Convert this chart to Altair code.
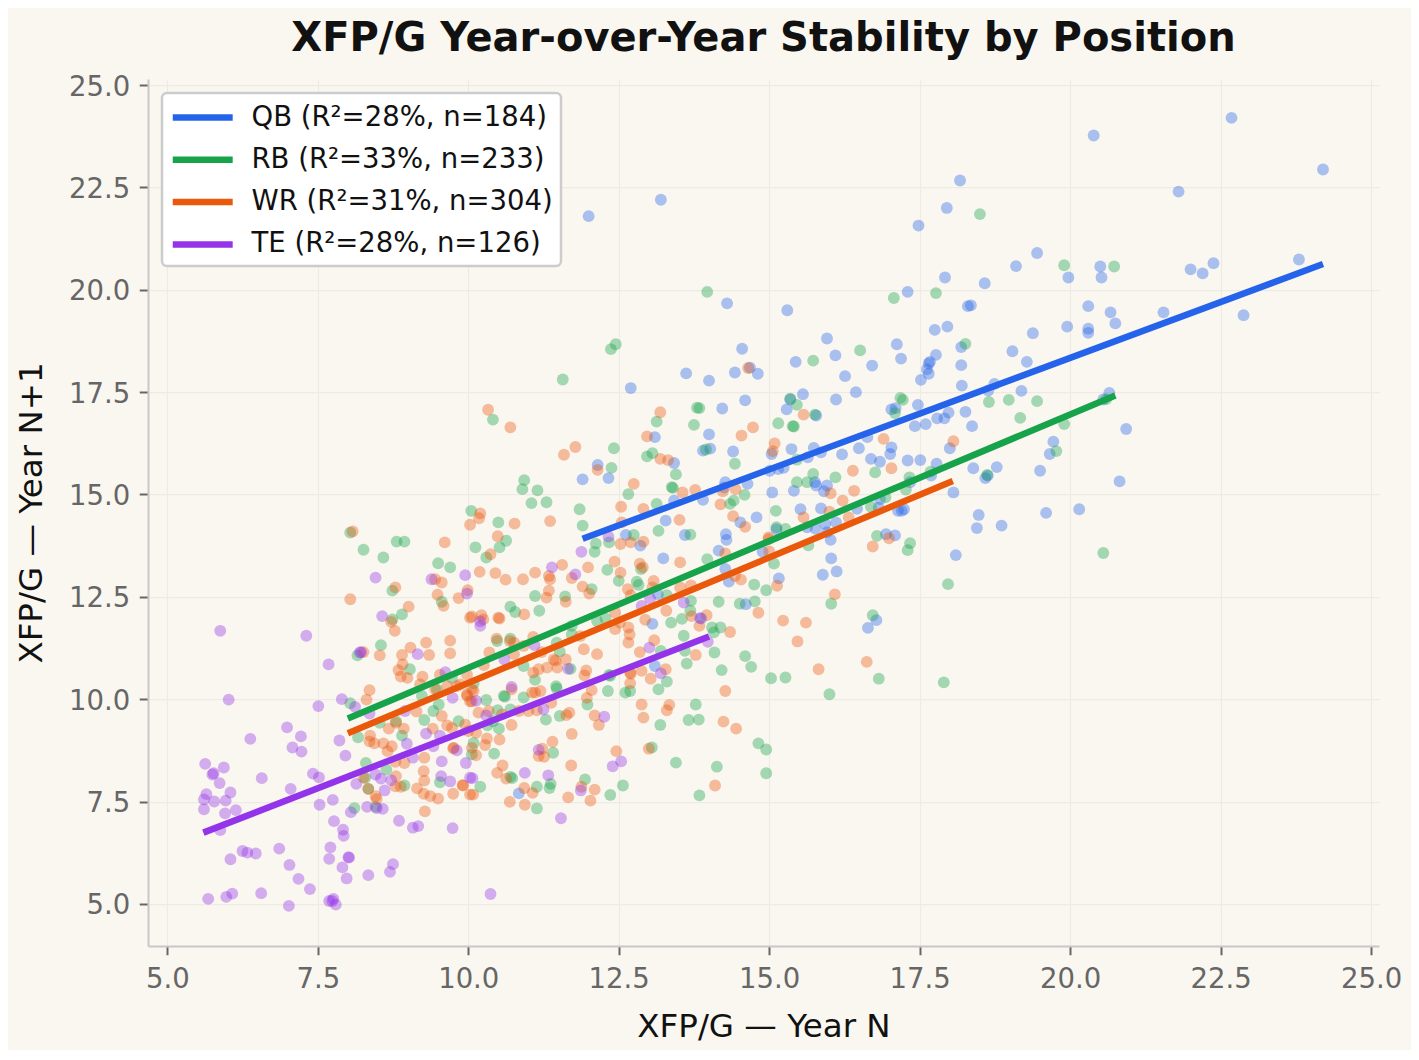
import altair as alt
import pandas as pd

positions = ["QB", "RB", "WR", "TE"]
labels = ["QB (R²=28%, n=184)", "RB (R²=33%, n=233)", "WR (R²=31%, n=304)", "TE (R²=28%, n=126)"]
colors = ["#2563eb", "#16a34a", "#ea580c", "#9333ea"]
ticks = [5, 7.5, 10, 12.5, 15, 17.5, 20, 22.5, 25]

qb = [(24.2,22.94),(22.68,24.2),(20.39,23.77),(21.8,22.4),(18.17,22.67),(13.2,22.2),(12.0,21.8),(17.95,22.0),(17.48,21.57),
(19.45,20.9),(23.8,20.74),(22.38,20.65),(22.0,20.5),(22.2,20.4),(20.5,20.57),(20.52,20.3),(19.1,20.58),(18.58,20.16),(19.97,20.3),
(17.92,20.3),(17.3,19.95),(14.3,19.67),(15.3,19.5),(18.3,19.6),(18.35,19.62),(20.3,19.6),(21.55,19.45),(22.88,19.38),(20.67,19.45),
(20.75,19.18),(19.95,19.1),(20.3,19.05),(20.3,18.95),(17.75,19.02),(17.96,19.1),(19.38,18.94),(15.96,18.81),(17.12,18.67),(18.19,18.6),
(14.55,18.56),(19.04,18.5),(16.1,18.4),(17.77,18.41),(17.19,18.32),(15.44,18.24),(19.28,18.24),(18.19,18.16),(17.67,18.24),(17.65,18.2),
(16.71,18.15),(13.62,17.96),(14.43,17.98),(14.68,18.1),(14.81,17.95),(16.26,17.89),(17.62,18.06),(17.65,17.95),(17.52,17.8),(14.0,17.78),
(12.7,17.6),(18.74,17.7),(18.64,17.54),(18.2,17.66),(19.19,17.53),(20.65,17.48),(20.55,17.32),(16.44,17.5),(15.56,17.45),(15.35,17.32),
(14.6,17.3),(14.22,17.1),(16.11,17.32),(15.29,17.08),(15.78,16.93),(17.47,17.19),(17.03,17.08),(18.26,17.02),(17.98,17.0),(17.1,17.11),
(17.79,16.86),(17.91,16.86),(17.6,16.72),(17.42,16.67),(18.37,16.67),(20.93,16.6),(14.0,16.47),(13.1,16.4),(16.63,16.4),(14.02,16.12),
(13.9,16.07),(14.4,16.05),(15.37,16.11),(15.74,16.14),(15.86,16.03),(17.03,16.15),(17.01,15.99),(15.04,15.99),(15.64,15.91),(16.21,15.98),
(16.49,16.13),(18.0,16.13),(19.72,16.29),(19.66,15.99),(16.69,15.87),(16.84,15.8),(17.3,15.83),(17.51,15.84),(17.78,15.75),(15.01,15.58),
(15.15,15.62),(15.24,15.65),(12.15,15.72),(11.9,15.37),(12.33,15.4),(13.42,15.77),(14.27,15.3),(14.25,15.17),(14.64,15.26),(15.05,15.05),
(15.41,15.09),(15.78,15.22),(15.96,15.22),(15.91,15.08),(15.76,15.3),(17.69,15.46),(17.34,15.3),(18.39,15.64),(18.78,15.67),(18.59,15.4),
(18.63,15.46),(19.5,15.58),(20.82,15.32),(20.15,14.64),(19.6,14.55),(18.48,14.5),(18.45,14.18),(18.86,14.24),(18.1,13.52),(18.06,15.05),
(13.42,14.85),(13.28,14.36),(12.62,14.01),(12.86,13.75),(13.6,14.01),(13.24,13.44),(13.9,14.87),(14.79,14.44),(14.52,14.32),(14.28,14.03),
(14.29,13.89),(14.16,13.63),(14.27,13.18),(14.33,12.87),(14.89,13.6),(15.16,12.95),(13.06,11.84),(13.15,12.56),(13.1,10.81),(13.87,11.97),
(14.61,12.32),(15.52,14.64),(15.86,14.66),(15.63,14.2),(15.77,14.16),(16.11,14.32),(15.96,14.08),(16.02,13.89),(16.03,13.44),(15.89,13.04),
(16.12,13.12),(16.46,14.65),(16.94,14.03),(16.64,11.74),(16.78,11.93),(17.14,14.6),(17.24,14.64),(17.2,14.6),(16.84,14.89),(16.82,14.68),
(15.93,14.28),(15.12,14.15),(17.09,14.0),(10.84,7.7)]

rb = [(19.9,20.6),(20.73,20.57),(18.5,21.85),(13.97,19.95),(17.77,19.92),(17.07,19.8),(18.26,18.68),(16.51,18.52),(12.45,18.67),(12.37,18.55),
(15.73,18.27),(11.57,17.81),(13.8,17.12),(13.84,17.11),(15.35,17.34),(15.46,17.19),(17.18,17.36),(17.22,17.31),(17.09,16.99),(18.65,17.26),
(18.98,17.31),(19.17,16.87),(19.9,16.72),(19.77,16.06),(20.6,17.33),(19.45,17.28),(15.15,16.74),(15.39,16.67),(15.41,16.66),(15.76,16.95),
(13.13,16.78),(13.75,16.7),(10.41,16.83),(13.95,16.1),(12.97,15.93),(13.06,16.01),(12.42,16.13),(12.38,15.65),(14.43,15.75),(13.45,15.49),
(13.38,15.18),(13.4,15.16),(12.66,15.01),(13.13,14.77),(14.41,14.85),(14.59,14.99),(14.35,14.77),(10.93,15.35),(10.9,15.13),(11.15,15.1),
(11.05,14.79),(11.3,14.81),(10.05,14.6),(11.85,14.64),(11.9,14.24),(15.46,15.85),(15.73,15.5),(16.1,15.42),(15.46,15.3),(15.63,15.3),
(16.76,15.54),(17.68,15.56),(17.33,15.42),(17.27,15.12),(16.93,14.93),(16.69,14.7),(18.62,15.48),(15.11,14.6),(15.12,14.2),(15.27,14.16),
(16.79,13.99),(17.34,13.81),(17.3,13.64),(20.55,13.57),(17.97,12.81),(16.03,12.33),(16.72,12.05),(16.0,10.12),(16.82,10.5),(17.9,10.41),
(15.08,13.31),(15.65,13.76),(13.16,14.11),(13.69,14.02),(12.75,14.01),(12.34,13.83),(12.12,13.8),(12.1,13.6),(12.31,13.16),(12.5,12.89),
(12.8,12.87),(12.83,12.79),(12.87,13.18),(13.3,12.54),(13.7,12.4),(13.69,12.16),(13.55,11.96),(13.37,11.87),
(13.97,13.42),(14.75,12.8),(14.95,12.66),(14.16,12.38),(14.51,12.33),(14.76,12.39),(14.05,11.75),(14.19,11.75),(14.08,11.63),(13.58,11.55),
(13.6,11.18),(13.2,11.18),(14.09,11.14),(13.63,10.87),(14.6,11.05),(14.7,10.79),(14.21,10.71),(15.03,10.51),(15.27,10.53),(13.3,10.43),
(13.16,10.24),(12.69,10.2),(12.61,10.16),(12.32,10.2),(12.36,10.57),(13.78,9.87),(13.66,9.49),(13.83,9.5),(13.19,9.37),(14.82,8.92),
(14.95,8.77),(13.45,8.45),(14.13,8.35),(13.05,8.82),(14.95,8.19),(13.84,7.65),(11.98,9.87),(11.29,9.5),(11.52,9.59),(12.34,10.59),
(11.7,10.74),(11.47,10.26),(11.46,10.32),(11.11,10.47),(10.92,10.81),(10.92,10.04),(10.61,10.06),(10.3,9.98),(10.49,9.73),(10.7,9.75),
(10.32,9.36),(10.51,9.28),(10.41,9.46),(10.09,8.93),(10.06,8.65),(10.43,8.67),(11.41,8.69),(10.2,7.86),(10.7,8.1),(10.73,8.07),(11.14,7.86),
(11.35,7.83),(11.37,7.93),(11.14,7.33),(11.94,8.04),(12.36,7.66),(12.57,7.89),(8.04,14.07),(8.26,13.65),(8.59,13.46),(8.81,13.85),
(8.94,13.85),(9.5,13.32),(9.7,13.22),(10.5,14.32),(10.63,13.87),(10.52,13.71),(10.12,13.71),(10.3,13.46),(8.74,12.65),
(8.9,12.07),(8.74,11.95),(8.55,11.32),(8.16,11.07),(9.56,12.38),(11.11,12.52),(11.61,12.51),(10.7,12.26),(10.78,12.13),(11.18,12.16),
(12.05,12.69),(10.7,11.48),(10.48,11.42),(11.47,11.38),(11.52,11.16),(11.72,11.79),(12.14,11.91),(12.28,11.97),(11.72,11.58),(10.09,10.39),
(9.48,10.24),(9.03,10.73),(10.59,10.08),(8.04,9.9),(8.17,9.07),(8.53,9.42),(8.8,9.46),(8.9,9.11),(9.27,9.49),(9.42,9.71),(9.51,9.87),
(9.23,10.08),(9.73,10.52),(8.3,8.44),(8.64,8.28),(8.29,8.08),(8.34,7.81),(8.94,7.89),(9.53,7.97),(8.11,7.34),(8.46,7.37),(9.84,9.46)]

wr = [(8.04,12.44),(9.01,12.26),(8.72,11.89),(8.78,11.67),(9.59,12.28),(9.84,12.47),(10.03,11.99),(8.26,11.15),(8.53,11.07),(9.04,11.26),
(8.9,11.08),(9.35,11.08),(9.3,11.38),(9.7,11.43),(9.7,11.12),(8.91,10.85),(8.84,10.71),(8.88,10.55),(8.99,10.52),(9.24,10.55),(9.2,10.36),
(9.53,10.6),(8.36,10.22),(8.31,9.99),(9.14,9.7),(9.45,10.24),(9.65,10.32),(9.81,10.32),(9.98,10.08),(10.03,9.95),(9.56,9.59),(9.65,9.36),
(9.73,9.3),(9.41,9.28),(9.95,9.38),(8.8,9.42),(8.68,9.28),(8.93,9.28),(8.37,9.11),(8.36,8.97),(8.44,8.92),(8.59,8.92),(8.73,8.85),(8.66,8.73),
(8.79,8.47),(8.94,8.44),(9.27,8.57),(9.75,8.8),(9.26,8.24),(9.27,8.01),(8.8,8.12),(8.26,8.08),(8.34,7.81),(8.79,7.87),(8.88,7.86),(9.15,7.82),
(9.26,7.69),(9.37,7.63),(9.5,7.57),(9.75,7.69),(9.91,7.89),(8.48,7.56),(9.28,7.26),(8.46,7.63),(10.03,7.67),(8.08,14.1),(10.2,14.54),
(10.18,14.42),(10.03,14.26),(10.77,14.29),(11.36,14.35),(9.61,13.83),(10.49,13.98),(10.37,13.54),(10.19,13.11),(10.45,13.08),(10.62,12.92),
(10.91,12.93),(11.11,13.09),(11.56,13.28),(11.34,13.01),(11.36,12.93),(11.72,12.96),(11.99,13.22),(11.9,12.75),(12.01,12.58),(12.43,13.36),
(12.53,13.09),(8.79,12.73),(9.45,12.93),(9.56,12.85),(9.99,12.66),(9.49,12.55),(11.34,12.65),(11.3,12.48),(11.62,12.38),
(10.06,12.02),(10.22,12.05),(10.25,11.95),(10.5,11.99),(10.52,11.97),(10.93,12.07),(10.47,11.48),(10.69,11.42),(10.76,11.38),(10.92,11.3),
(11.08,11.52),(11.22,11.15),(10.35,11.14),(10.76,11.1),(11.86,11.54),(11.92,11.22),(12.14,11.1),(11.42,10.97),(11.45,10.94),(11.62,10.97),
(11.31,10.77),(11.48,10.77),(11.17,10.73),(11.08,10.65),(10.26,10.83),(9.98,10.6),(11.96,10.7),(11.93,10.58),(12.44,11.71),(12.05,10.22),
(11.97,10.03),(11.11,10.16),(11.2,10.2),(11.06,10.16),(10.72,10.24),(10.06,10.24),(9.98,10.12),(9.87,10.36),(12.88,10.69),(12.69,10.65),
(12.69,10.39),(13.03,10.5),(13.28,10.73),(12.88,9.87),(13.34,9.86),(13.3,9.73),(12.91,9.55),(14.27,10.2),(14.24,9.45),(14.45,9.28),
(11.68,9.67),(11.63,9.61),(12.17,9.37),(12.1,9.6),(11.72,9.15),(11.38,9.91),(11.14,9.73),(11.0,9.71),(10.84,9.71),(10.72,9.37),(10.56,9.63),
(10.34,9.71),(10.17,9.67),(10.06,9.95),(10.09,10.2),(10.52,9.01),(10.31,9.04),(10.28,8.88),(10.13,9.18),(10.0,9.22),(9.76,8.81),(10.06,8.81),
(10.13,8.63),(11.4,8.96),(11.23,8.79),(11.17,8.61),(11.26,8.59),(12.46,8.73),(11.71,8.38),(13.0,8.79),(10.57,8.38),(10.48,8.2),(10.63,8.06),
(9.91,7.9),(10.08,7.67),(10.93,7.83),(11.07,7.71),(10.69,7.49),(10.94,7.42),(11.66,7.6),(11.88,7.86),(12.1,7.79),(12.03,7.52),(14.1,7.89),
(10.33,17.07),(10.7,16.64),(11.59,15.97),(11.78,16.16),(12.15,15.6),(12.97,16.42),(13.19,17.01),(13.19,15.87),(13.32,15.84),(14.54,16.44),
(14.73,16.64),(14.65,18.09),(12.75,15.26),(13.56,15.05),(13.77,15.11),(14.23,15.08),(14.44,15.13),(14.19,14.76),(12.54,14.7),(12.91,14.65),
(13.51,14.38),(12.55,14.32),(14.4,14.47),(14.6,14.21),(12.91,13.85),(12.7,13.83),(12.53,13.79),(12.85,13.31),(12.9,13.22),
(13.52,13.34),(14.27,13.56),(13.08,12.89),(13.06,12.73),(12.65,12.69),(12.7,12.54),(13.52,12.73),(13.7,12.78),(14.43,13.01),(14.53,12.92),
(14.99,13.91),(15.0,13.61),(15.13,12.77),(14.82,12.11),(15.23,11.92),(15.61,11.87),(15.47,11.41),(15.82,10.73),(16.62,10.91),(16.09,12.56),
(16.72,13.73),(16.99,13.93),(16.39,15.58),(17.03,15.64),(16.41,15.09),(16.22,14.85),(16.02,15.03),(16.32,14.44),(15.57,14.44),(13.96,12.05),
(13.71,12.03),(13.84,11.79),(13.29,12.16),(12.94,11.94),(12.44,12.11),(12.52,11.87),(12.66,11.75),(12.66,11.38),(12.68,11.58),(13.09,11.44),
(12.85,11.15),(13.78,11.08),(14.35,11.64),(12.7,10.62),(15.57,16.95),(15.09,16.25),
(15.06,16.06),(16.9,16.36),(18.06,16.3),(16.0,14.58),(14.99,13.95)]

te = [(5.88,11.67),(7.31,11.55),(7.68,10.85),(6.02,9.99),(7.9,10.0),(7.51,9.83),(8.12,9.81),(8.36,9.65),(6.38,9.03),(6.99,9.31),(7.22,9.09),
(7.08,8.82),(7.23,8.72),(7.86,8.99),(7.96,8.62),(5.63,8.42),(5.77,8.19),(5.75,8.16),(5.94,8.33),(5.87,7.95),(6.57,8.07),(7.42,8.18),(7.52,8.09),
(7.05,7.81),(6.05,7.72),(5.65,7.68),(5.61,7.55),(5.78,7.5),(5.97,7.52),(5.61,7.31),(6.14,7.29),(5.96,7.21),(5.88,6.8),(7.53,7.42),(7.75,7.54),
(8.05,7.24),(7.77,7.02),(7.92,6.81),(7.93,6.66),(7.71,6.38),(7.69,6.1),(8.01,6.14),(8.02,6.13),(7.91,5.89),(7.98,5.62),(8.34,5.7),(8.75,5.97),
(8.7,5.78),(6.05,6.09),(6.25,6.29),(6.33,6.25),(6.47,6.23),(6.86,6.35),(7.03,5.95),(7.18,5.61),(7.37,5.36),(6.56,5.26),(6.08,5.25),(5.98,5.17),
(5.68,5.12),(7.02,4.95),(7.69,5.07),(7.76,5.12),(7.74,5.07),(7.8,4.98),(8.85,7.03),(9.08,6.86),(9.17,6.9),(9.74,6.85),(8.14,7.93),(8.32,7.37),
(8.58,7.32),(8.48,7.34),(8.61,7.77),(8.55,8.06),(8.72,8.02),(8.46,8.16),(8.2,11.14),(8.22,11.15),(9.16,11.1),(9.62,10.66),(9.74,10.03),(8.95,9.71),
(9.3,9.16),(8.98,8.91),(9.08,8.57),(9.42,8.85),(9.53,9.11),(9.56,8.48),(9.81,8.75),(9.96,8.44),(9.55,8.12),(9.7,7.99),(10.03,8.08),(10.37,5.24),
(11.54,7.09),(11.87,7.77),(12.26,9.57),(12.4,8.36),(12.54,8.48),(10.94,8.2),(11.33,8.14),(11.17,8.76),(11.25,9.75),(10.07,8.07),(10.13,9.96),
(10.3,9.6),(10.72,10.3),(11.66,10.74),(13.2,10.63),(8.46,12.97),(8.57,12.03),(9.39,12.93),(9.95,13.03),(9.98,12.58),(10.2,11.9),(10.2,11.79),
(11.39,13.22),(11.78,13.05),(11.88,13.6),(12.33,13.97),(10.6,10.97),(11.1,11.32),(12.88,12.28),(13.02,12.46),(13.58,12.36),(13.85,11.98),
(13.01,11.26),(13.98,11.4)]

line_x = [[11.9, 24.2], [8.0, 20.75], [8.0, 18.05], [5.6, 14.0]]
line_y = [[13.92, 20.63], [9.53, 17.42], [9.17, 15.33], [6.74, 11.53]]

rows = []
for pos, pts in zip(positions, [qb, rb, wr, te]):
    for px, py in pts:
        rows.append({"x": px, "y": py, "pos": pos})
pts_df = pd.DataFrame(rows)

line_rows = []
for lab, xs, ys in zip(labels, line_x, line_y):
    for px, py in zip(xs, ys):
        line_rows.append({"x": px, "y": py, "label": lab})
line_df = pd.DataFrame(line_rows)

xs = alt.Scale(domain=[4.68, 25.13], nice=False, zero=False)
ys = alt.Scale(domain=[3.97, 25.15], nice=False, zero=False)


def ax(title, **kw):
    return alt.Axis(title=title, values=ticks, format=".1f", grid=True, gridColor="#eeebe4", gridWidth=1.25,
                    domainColor="#c8c8c8", domainWidth=2, tickColor="#666666", tickWidth=2, tickSize=8.75,
                    labelColor="#666666", labelFontSize=27.5, labelFont="DejaVu Sans",
                    titleColor="#111111", titleFontSize=32.5, titleFont="DejaVu Sans", titleFontWeight="normal", **kw)


points = alt.Chart(pts_df).mark_circle(size=140, opacity=0.38).encode(
    x=alt.X("x:Q", scale=xs, axis=ax("XFP/G — Year N", titlePadding=17, labelPadding=10.75)),
    y=alt.Y("y:Q", scale=ys, axis=ax("XFP/G — Year N+1", titlePadding=20, labelPadding=9.5, labelOffset=2)),
    fill=alt.Fill("pos:N", scale=alt.Scale(domain=positions, range=colors), legend=None),
)

lines = alt.Chart(line_df).mark_line(strokeWidth=6.5, strokeCap="butt").encode(
    x="x:Q",
    y="y:Q",
    color=alt.Color("label:N", scale=alt.Scale(domain=labels, range=colors), legend=alt.Legend(
        title=None, orient="none", legendX=14, legendY=14, symbolType="M-1,0H3.36", symbolSize=756,
        symbolStrokeWidth=6.5, labelFontSize=27.5, labelFont="DejaVu Sans", labelColor="#111111", labelLimit=420,
        rowPadding=11.3, labelOffset=48, fillColor="#ffffff", strokeColor="#cccccc", cornerRadius=5,
        padding=7.5)),
)

chart = (points + lines).properties(
    width=1231, height=867,
    padding={"left": 140, "top": 71, "right": 32, "bottom": 104},
    autosize=alt.AutoSizeParams(type="none"),
    background="#faf7f0",
    title=alt.TitleParams("XFP/G Year-over-Year Stability by Position", font="DejaVu Sans", fontSize=40, fontWeight="bold",
                          color="#111111", anchor="middle", offset=14),
).configure_view(stroke=None).configure_legend(strokeWidth=2.5)

chart.save("out.html", embed_options={"renderer": "svg", "actions": False})
